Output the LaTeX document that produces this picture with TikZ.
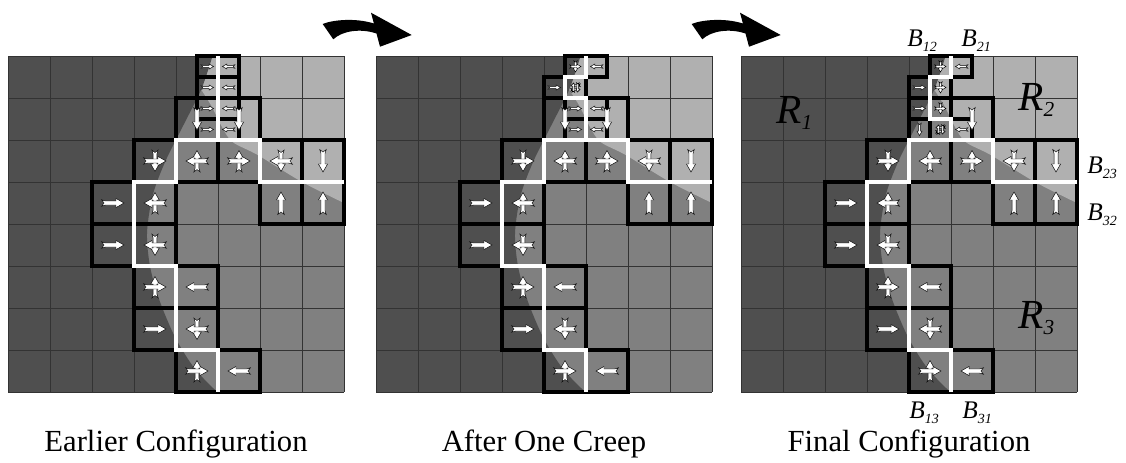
\documentclass[tikz,border=0pt]{standalone}
\usepackage{fontspec}
\setmainfont{Liberation Serif}
\definecolor{rdark}{gray}{0.31}
\definecolor{rmed}{gray}{0.5}
\definecolor{rlight}{gray}{0.69}
\tikzset{
  thinl/.style={line width=0.7pt, draw=black!80},
  bbox/.style={line width=3.2pt, draw=black, line join=miter},
  wline/.style={line width=3pt, draw=white, line join=miter},
  arrowbody/.style={fill=white, draw=black, line width=0.35pt, line join=miter},
  barr/.pic={\path[arrowbody, x=0.75pt, y=-0.75pt] (-11.5,-3.3) -- (-7.5,-2) -- (3,-2) -- (3,-4.6) -- (11,0) -- (3,4.6) -- (3,2) -- (-7.5,2) -- (-11.5,3.3) -- (-9,0) -- cycle;},
}
\newcommand{\bArr}[2]{\path (#1) pic[rotate=#2]{barr};}
\newcommand{\cArr}[3]{\path (#1) pic[rotate=#3,scale=0.95]{barr} pic[rotate=#2]{barr};}
\newcommand{\sArr}[2]{\path (#1) pic[rotate=#2,scale=0.55]{barr};}
\newcommand{\scArr}[3]{\path (#1) pic[rotate=#3,scale=0.5]{barr} pic[rotate=#2,scale=0.5]{barr};}
\newcommand{\qArr}[1]{\path (#1) pic[yshift=-1.7pt,scale=0.42]{barr} pic[yshift=1.7pt,rotate=180,scale=0.42]{barr} pic[xshift=-1.7pt,rotate=90,scale=0.42]{barr} pic[xshift=1.7pt,rotate=-90,scale=0.42]{barr};}
\newcommand{\sBox}[1]{\draw[bbox] (#1) rectangle ++(0.5,0.5);}
\newcommand{\pFill}{%
 \fill[rmed] (0,0) rectangle (8,8);
 \fill[rlight] (8,3.5) -- plot[smooth] coordinates {(8,3.5) (7,3.0) (5.95,2.36) (5.35,2.05) (5.1,1.7) (4.85,1.2) (4.6,0.8)} -- (4,0.8) -- (4,0) -- (8,0) -- cycle;
 \fill[rdark] (0,0) -- plot[smooth] coordinates {(4.87,0) (4.6,0.8) (4.2,1.6) (3.75,2.5) (3.45,3.3) (3.31,4.2) (3.38,5.0) (3.6,5.8) (3.98,6.7) (4.45,7.45) (4.98,8)} -- (0,8) -- cycle;
 \foreach \i in {0,...,8} {\draw[thinl] (\i,0) -- (\i,8); \draw[thinl] (0,\i) -- (8,\i);}
}
\newcommand{\pBoxes}{%
 \foreach \c/\r in {3/2,4/2,5/2,6/2,7/2,2/3,3/3,6/3,7/3,2/4,3/4,3/5,4/5,3/6,4/6,4/7,5/7} {\draw[bbox] (\c,\r) rectangle ++(1,1);}
}
\newcommand{\pWhite}{%
 \draw[wline] (8,3) -- (6,3) -- (6,2) -- (4,2) -- (4,3) -- (3,3) -- (3,5) -- (4,5) -- (4,7) -- (5,7) -- (5,8);
}
\newcommand{\pArrows}{%
 \cArr{3.5,2.5}{0}{-90} \cArr{4.5,2.5}{180}{90} \cArr{5.5,2.5}{0}{90} \cArr{6.5,2.5}{180}{-90} \bArr{7.5,2.5}{-90}
 \bArr{2.5,3.5}{0} \cArr{3.5,3.5}{180}{90} \bArr{6.5,3.5}{90} \bArr{7.5,3.5}{90}
 \bArr{2.5,4.5}{0} \cArr{3.5,4.5}{180}{-90}
 \cArr{3.5,5.5}{0}{90} \bArr{4.5,5.5}{180}
 \bArr{3.5,6.5}{0} \cArr{4.5,6.5}{180}{-90}
 \cArr{4.5,7.5}{0}{90} \bArr{5.5,7.5}{180}
}
\newcommand{\Bl}[1]{{\fontsize{19}{19}\selectfont\itshape B}{\fontsize{10.5}{10.5}\selectfont\itshape\raisebox{-4pt}{#1}}}
\newcommand{\Rl}[1]{{\fontsize{31}{31}\selectfont\itshape R}{\fontsize{16}{16}\selectfont\itshape\raisebox{-5pt}{#1}}}
\newcommand{\creep}{\fill[black] (322.7,24) .. controls (332,20) and (355,17.5) .. (373.9,23.5) -- (371,12.7) -- (411.7,35) -- (380,46.7) -- (376.5,33.5) .. controls (360,28) and (342,31) .. (333.3,39.3) -- cycle;}
\begin{document}
\begin{tikzpicture}[x=0.75pt,y=-0.75pt]
\useasboundingbox (0,0) rectangle (1126,462);
\fill[white] (0,0) rectangle (1126,462);
% curved arrows
\begin{scope}\creep\end{scope}
\begin{scope}[xshift=276.75pt]\creep\end{scope}
% panel 1
\begin{scope}[shift={(6pt,-42pt)}, x=31.5pt, y=-31.5pt]
 \pFill
 \pBoxes
 \draw[bbox] (4,1) rectangle ++(1,1);
 \draw[bbox] (5,1) rectangle ++(1,1);
 \sBox{4.5,0} \sBox{5,0} \sBox{4.5,0.5} \sBox{5,0.5} \sBox{4.5,1} \sBox{5,1} \sBox{4.5,1.5} \sBox{5,1.5}
 \pWhite
 \draw[wline] (5,0) -- (5,2);
 \pArrows
 \sArr{4.75,0.25}{0} \sArr{5.25,0.25}{180}
 \sArr{4.75,0.75}{0} \sArr{5.25,0.75}{180}
 \sArr{4.75,1.25}{0} \sArr{5.25,1.25}{180}
 \sArr{4.75,1.75}{0} \sArr{5.25,1.75}{180}
 \bArr{4.5,1.5}{-90} \bArr{5.5,1.5}{-90}
\end{scope}
% panel 2
\begin{scope}[shift={(282pt,-42pt)}, x=31.5pt, y=-31.5pt]
 \pFill
 \pBoxes
 \draw[bbox] (4,1) rectangle ++(1,1);
 \draw[bbox] (5,1) rectangle ++(1,1);
 \sBox{4.5,0} \sBox{5,0} \sBox{4,0.5} \sBox{4.5,0.5} \sBox{4.5,1} \sBox{5,1} \sBox{4.5,1.5} \sBox{5,1.5}
 \pWhite
 \draw[wline] (5,0) -- (5,0.5) -- (4.5,0.5) -- (4.5,1) -- (5,1) -- (5,2);
 \pArrows
 \scArr{4.75,0.25}{0}{-90} \sArr{5.25,0.25}{180}
 \sArr{4.25,0.75}{0} \qArr{4.75,0.75}
 \sArr{4.75,1.25}{0} \sArr{5.25,1.25}{180}
 \sArr{4.75,1.75}{0} \sArr{5.25,1.75}{180}
 \bArr{4.5,1.5}{-90} \bArr{5.5,1.5}{-90}
\end{scope}
% panel 3
\begin{scope}[shift={(555.75pt,-42pt)}, x=31.5pt, y=-31.5pt]
 \pFill
 \pBoxes
 \draw[bbox] (5,1) rectangle ++(1,1);
 \sBox{4.5,0} \sBox{5,0} \sBox{4,0.5} \sBox{4.5,0.5} \sBox{4,1} \sBox{4.5,1} \sBox{4,1.5} \sBox{4.5,1.5} \sBox{5,1.5}
 \pWhite
 \draw[wline] (5,0) -- (5,0.5) -- (4.5,0.5) -- (4.5,1.5) -- (5,1.5) -- (5,2);
 \pArrows
 \scArr{4.75,0.25}{0}{-90} \sArr{5.25,0.25}{180}
 \sArr{4.25,0.75}{0} \scArr{4.75,0.75}{0}{-90}
 \sArr{4.25,1.25}{0} \scArr{4.75,1.25}{0}{-90}
 \sArr{4.25,1.75}{-90} \qArr{4.75,1.75} \sArr{5.25,1.75}{180}
 \bArr{5.5,1.5}{-90}
\end{scope}
% labels
\node[anchor=base west, inner sep=0] (b12) at (907,46) {\Bl{12}};
\node[anchor=base west, inner sep=0] (b21) at (961,46) {\Bl{21}};
\node[anchor=base west, inner sep=0] (b23) at (1087,173) {\Bl{23}};
\node[anchor=base west, inner sep=0] (b32) at (1087,220) {\Bl{32}};
\node[anchor=base west, inner sep=0] (b13) at (909,418) {\Bl{13}};
\node[anchor=base west, inner sep=0] (b31) at (962,418) {\Bl{31}};
\node[anchor=base west, inner sep=0] (r1) at (776,123) {\Rl{1}};
\node[anchor=base west, inner sep=0] (r2) at (1018,110) {\Rl{2}};
\node[anchor=base west, inner sep=0] (r3) at (1018,328) {\Rl{3}};
\node[anchor=base, inner sep=0] (c1) at (176,451) {\fontsize{23}{23}\selectfont Earlier Configuration};
\node[anchor=base, inner sep=0] (c2) at (544,451) {\fontsize{23}{23}\selectfont After One Creep};
\node[anchor=base, inner sep=0] (c3) at (909,451) {\fontsize{23}{23}\selectfont Final Configuration};
\end{tikzpicture}
\end{document}
